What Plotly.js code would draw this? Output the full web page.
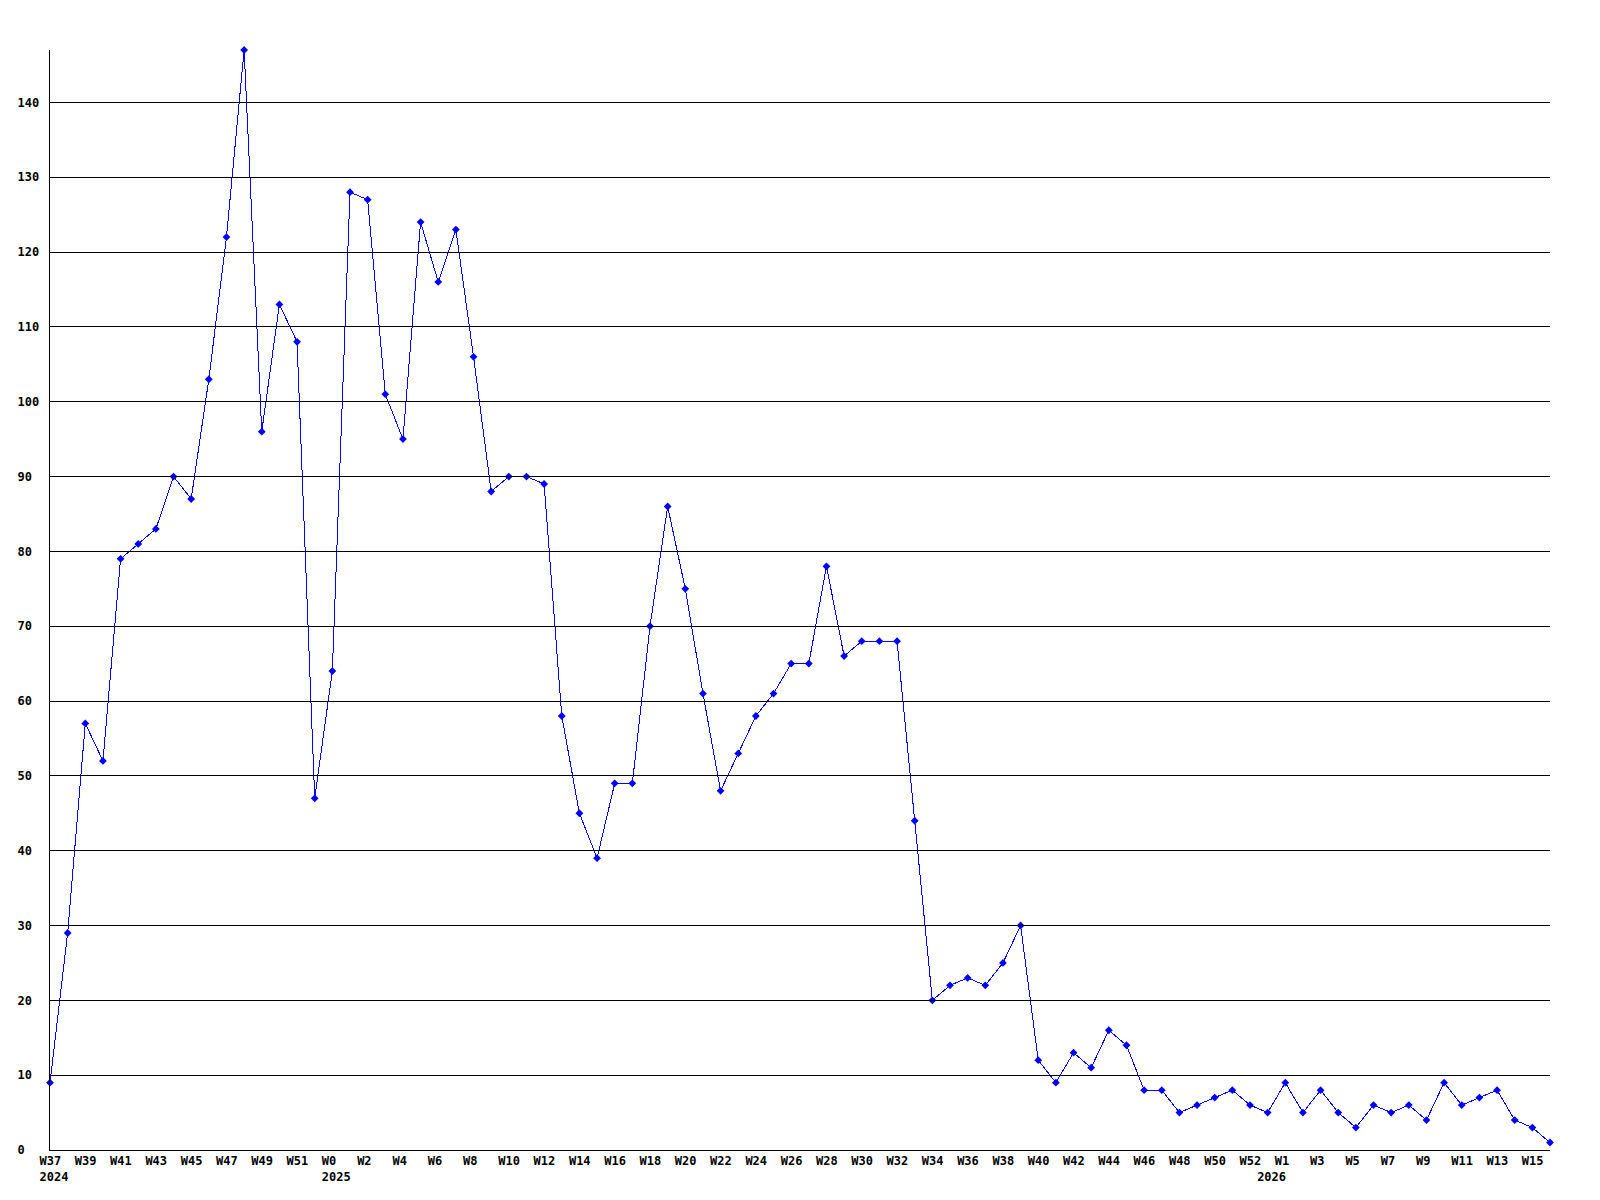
<!DOCTYPE html>
<html>
<head>
<meta charset="utf-8">
<script src="https://cdn.plot.ly/plotly-3.0.1.min.js"></script>
<style>
  html, body { margin: 0; padding: 0; background: #ffffff; }
  #chart { width: 1600px; height: 1200px; }
  #chart .shapelayer path { shape-rendering: crispEdges; }
  #chart .scatterlayer path.js-line { shape-rendering: crispEdges; }
</style>
</head>
<body>
<div id="chart"></div>
<script>
// Week labels (strftime %W style), one per data point
const weeks = [
  "W37","W38","W39","W40","W41","W42","W43","W44","W45","W46","W47","W48","W49","W50","W51","W52",
  "W0","W1","W2","W3","W4","W5","W6","W7","W8","W9","W10","W11","W12","W13","W14","W15","W16","W17",
  "W18","W19","W20","W21","W22","W23","W24","W25","W26","W27","W28","W29","W30","W31","W32","W33",
  "W34","W35","W36","W37","W38","W39","W40","W41","W42","W43","W44","W45","W46","W47","W48","W49",
  "W50","W51","W52",
  "W0","W1","W2","W3","W4","W5","W6","W7","W8","W9","W10","W11","W12","W13","W14","W15","W16"
];

// Year of each data point
const years = [
  2024,2024,2024,2024,2024,2024,2024,2024,2024,2024,2024,2024,2024,2024,2024,2024,
  2025,2025,2025,2025,2025,2025,2025,2025,2025,2025,2025,2025,2025,2025,2025,2025,2025,2025,
  2025,2025,2025,2025,2025,2025,2025,2025,2025,2025,2025,2025,2025,2025,2025,2025,
  2025,2025,2025,2025,2025,2025,2025,2025,2025,2025,2025,2025,2025,2025,2025,2025,
  2025,2025,2025,
  2026,2026,2026,2026,2026,2026,2026,2026,2026,2026,2026,2026,2026,2026,2026,2026,2026
];

// Weekly counts
const counts = [
  9,29,57,52,79,81,83,90,87,103,122,147,96,113,108,47,
  64,128,127,101,95,124,116,123,106,88,90,90,89,58,45,39,49,49,
  70,86,75,61,48,53,58,61,65,65,78,66,68,68,68,44,
  20,22,23,22,25,30,12,9,13,11,16,14,8,8,5,6,
  7,8,6,
  5,9,5,8,5,3,6,5,6,4,9,6,7,8,4,3,1
];

// Y axis tick values
const yTicks = [0,10,20,30,40,50,60,70,80,90,100,110,120,130,140];

const keys = weeks.map((w, i) => years[i] + "-" + w);

const tickvals = [];
const ticktext = [];
keys.forEach((k, i) => {
  const firstOfYear = (i === 0) || (years[i] !== years[i - 1]);
  const labelled = (i % 2 === 0);
  if (labelled || firstOfYear) {
    tickvals.push(k);
    ticktext.push((labelled ? weeks[i] : "\u00a0") + (firstOfYear ? "<br>" + years[i] : ""));
  }
});

const tickFont = { family: "DejaVu Sans Mono", size: 12, color: "#000000", weight: "bold" };

const trace = {
  type: "scatter",
  mode: "lines+markers",
  x: keys,
  y: counts,
  cliponaxis: false,
  line: { color: "#0000ff", width: 1 },
  marker: { symbol: "diamond", size: 6, color: "#0000ff" },
  hoverinfo: "x+y"
};

const shapes = yTicks.filter(v => v > 0).map(v => ({
  type: "line",
  xref: "paper", x0: 0, x1: 1,
  yref: "y", y0: v, y1: v,
  line: { color: "#000000", width: 1 },
  layer: "above"
}));

const layout = {
  width: 1600,
  height: 1200,
  margin: { l: 50, r: 50, t: 50, b: 50, pad: 0 },
  paper_bgcolor: "#ffffff",
  plot_bgcolor: "#ffffff",
  showlegend: false,
  font: tickFont,
  xaxis: {
    type: "category",
    range: [0, keys.length - 1],
    showgrid: false,
    zeroline: false,
    showline: true,
    linecolor: "#000000",
    linewidth: 1,
    ticks: "",
    tickvals: tickvals,
    ticktext: ticktext,
    tickangle: 0,
    tickfont: tickFont,
    ticklabelposition: "outside right",
    ticklabelshift: -11,
    layer: "above traces"
  },
  yaxis: {
    range: [0, 147],
    showgrid: false,
    zeroline: false,
    showline: true,
    linecolor: "#000000",
    linewidth: 1,
    ticks: "",
    tickvals: yTicks,
    ticktext: yTicks.map(String),
    tickfont: tickFont,
    ticklabelposition: "inside",
    ticklabelstandoff: -33,
    ticklabeloverflow: "allow",
    layer: "above traces"
  },
  shapes: shapes
};

Plotly.newPlot("chart", [trace], layout, { displayModeBar: false, staticPlot: true });
</script>
</body>
</html>
